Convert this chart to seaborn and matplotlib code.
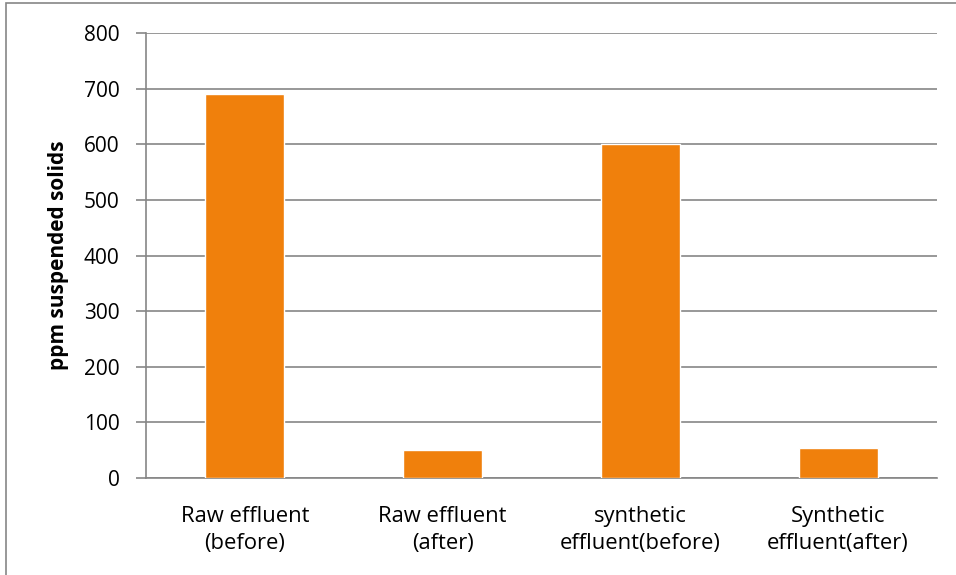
import matplotlib
matplotlib.use("Agg")
import matplotlib.pyplot as plt
import seaborn as sns
import pandas as pd
from matplotlib.patches import Rectangle

categories = ["Raw effluent\n(before)", "Raw effluent\n(after)",
              "synthetic\neffluent(before)", "Synthetic\neffluent(after)"]
values = [690, 51, 601, 54]

df = pd.DataFrame({"sample": categories, "ppm": values})

sns.set_theme(style="white")
plt.rcParams["font.family"] = ["Open Sans", "DejaVu Sans"]

fig = plt.figure(figsize=(9.56, 5.75), dpi=100)
ax = fig.add_axes([0.1527, 0.1687, 0.9801 - 0.1527, 0.9426 - 0.1687])

sns.barplot(data=df, x="sample", y="ppm", color="#F0800C", width=0.4,
            saturation=1, ax=ax, zorder=3)

ax.set_xlim(-0.5, 3.5)
ax.set_ylim(0, 800)
ax.set_yticks(range(0, 801, 100))
ax.yaxis.grid(True, color="#868686", linewidth=1.2, zorder=0)
ax.set_axisbelow(True)

for s in ["top", "right"]:
    ax.spines[s].set_visible(False)
for s in ["left", "bottom"]:
    ax.spines[s].set_color("#868686")
    ax.spines[s].set_linewidth(1.2)

ax.set_xticks(range(4))
ax.set_xticklabels(categories, fontsize=15.8, color="black", linespacing=1.4)
ax.set_xticks([-0.5, 0.5, 1.5, 2.5, 3.5], minor=True)
ax.tick_params(axis="x", which="major", length=0, pad=20)
ax.tick_params(axis="x", which="minor", length=7, width=1.2, color="#868686", direction="out")
ax.tick_params(axis="y", length=7, width=1.2, color="#868686", direction="out",
               labelsize=15, labelcolor="black", pad=12, left=True)

ax.set_xlabel("")
ax.set_ylabel("ppm suspended solids", fontsize=15, fontweight="bold", color="black", labelpad=11)

fig.patches.append(Rectangle((6 / 956, -0.1), 1.2, 1.1 - 3 / 575,
                             transform=fig.transFigure, fill=False,
                             edgecolor="#868686", linewidth=1.2))

fig.savefig("out.png", dpi=100)
